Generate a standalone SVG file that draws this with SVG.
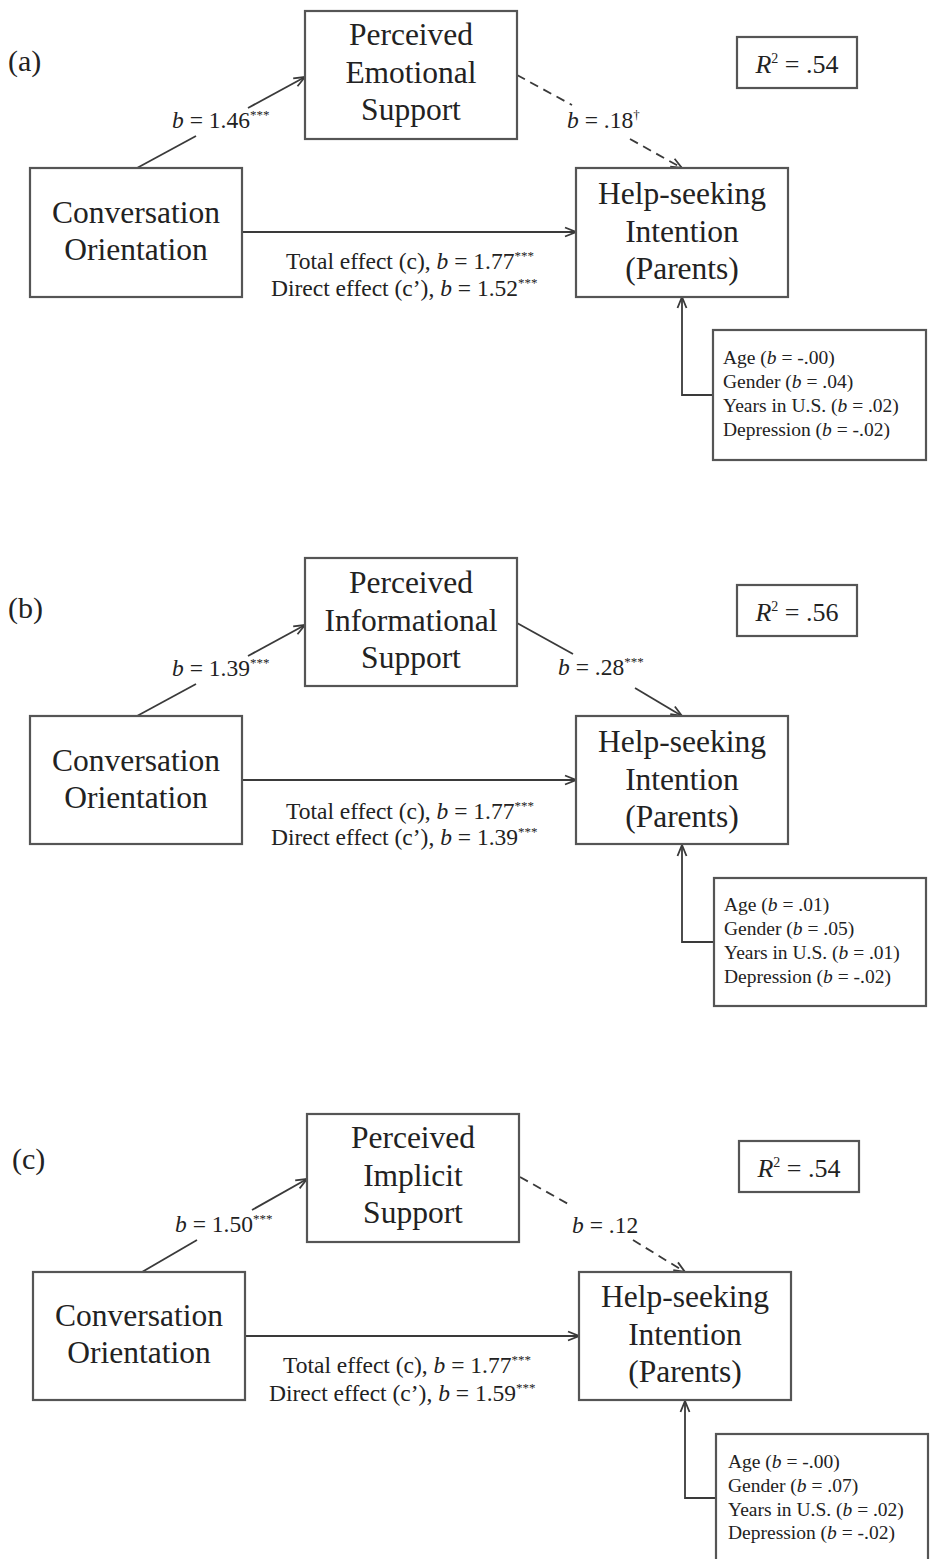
<svg xmlns="http://www.w3.org/2000/svg" width="930" height="1559" viewBox="0 0 930 1559">
  <style>
    .box { fill: #fff; stroke: #555; stroke-width: 2.2; }
    .big { font-family: "Liberation Serif", "Times New Roman", serif; font-size: 31.5px; fill: #222; text-anchor: middle; }
    .lbl { font-family: "Liberation Serif", "Times New Roman", serif; font-size: 23.5px; fill: #222; }
    .cov { font-family: "Liberation Serif", "Times New Roman", serif; font-size: 19.5px; fill: #222; }
    .rsq { font-family: "Liberation Serif", "Times New Roman", serif; font-size: 26px; fill: #222; text-anchor: middle; }
    .pan { font-family: "Liberation Serif", "Times New Roman", serif; font-size: 30px; fill: #222; }
    .i { font-style: italic; }
    .sup { font-size: 13px; }
    .ln { fill: none; stroke: #3a3a3a; stroke-width: 1.8; }
    .dash { stroke-dasharray: 9 6; }
  </style>
  <defs>
    <marker id="arrow" markerUnits="userSpaceOnUse" markerWidth="14" markerHeight="12" refX="12" refY="6" orient="auto">
      <path d="M1,1.5 L12,6 L1,10.5" fill="none" stroke="#3a3a3a" stroke-width="1.8"/>
    </marker>
  </defs>

  <rect width="930" height="1559" fill="#fff"/>

  <!-- panel labels -->
  <text class="pan" x="8" y="71">(a)</text>
  <text class="pan" x="8" y="618">(b)</text>
  <text class="pan" x="12" y="1169">(c)</text>

  <!-- connectors -->
  <g id="connectors">
    <!-- (a) -->
    <line class="ln" x1="137" y1="168" x2="196" y2="136"/>
    <line class="ln" x1="248" y1="108" x2="305" y2="77" marker-end="url(#arrow)"/>
    <line class="ln dash" x1="517" y1="75" x2="572" y2="105"/>
    <line class="ln dash" x1="630" y1="139" x2="682" y2="168" marker-end="url(#arrow)"/>
    <line class="ln" x1="242" y1="232" x2="576" y2="232" marker-end="url(#arrow)"/>
    <path class="ln" d="M713,395 H682 V297" marker-end="url(#arrow)"/>
    <!-- (b) -->
    <line class="ln" x1="137" y1="716" x2="196" y2="684"/>
    <line class="ln" x1="248" y1="656" x2="305" y2="625" marker-end="url(#arrow)"/>
    <line class="ln" x1="517" y1="623" x2="573" y2="654"/>
    <line class="ln" x1="635" y1="688" x2="682" y2="716" marker-end="url(#arrow)"/>
    <line class="ln" x1="242" y1="780" x2="576" y2="780" marker-end="url(#arrow)"/>
    <path class="ln" d="M714,942 H682 V845" marker-end="url(#arrow)"/>
    <!-- (c) -->
    <line class="ln" x1="142" y1="1272" x2="197" y2="1240"/>
    <line class="ln" x1="252" y1="1210" x2="307" y2="1179" marker-end="url(#arrow)"/>
    <line class="ln dash" x1="520" y1="1177" x2="570" y2="1205"/>
    <line class="ln dash" x1="633" y1="1240" x2="685" y2="1272" marker-end="url(#arrow)"/>
    <line class="ln" x1="245" y1="1336" x2="579" y2="1336" marker-end="url(#arrow)"/>
    <path class="ln" d="M716,1498 H685 V1401" marker-end="url(#arrow)"/>

    <!-- path labels (a) -->
    <text class="lbl" x="172" y="128"><tspan class="i">b</tspan> = 1.46<tspan class="sup" dy="-9">***</tspan></text>
    <text class="lbl" x="567" y="128"><tspan class="i">b</tspan> = .18<tspan class="sup" dy="-9">†</tspan></text>
    <text class="lbl" x="286" y="269">Total effect (c), <tspan class="i">b</tspan> = 1.77<tspan class="sup" dy="-9">***</tspan></text>
    <text class="lbl" x="271" y="296">Direct effect (c’), <tspan class="i">b</tspan> = 1.52<tspan class="sup" dy="-9">***</tspan></text>
    <!-- path labels (b) -->
    <text class="lbl" x="172" y="676"><tspan class="i">b</tspan> = 1.39<tspan class="sup" dy="-9">***</tspan></text>
    <text class="lbl" x="558" y="675"><tspan class="i">b</tspan> = .28<tspan class="sup" dy="-9">***</tspan></text>
    <text class="lbl" x="286" y="819">Total effect (c), <tspan class="i">b</tspan> = 1.77<tspan class="sup" dy="-9">***</tspan></text>
    <text class="lbl" x="271" y="845">Direct effect (c’), <tspan class="i">b</tspan> = 1.39<tspan class="sup" dy="-9">***</tspan></text>
    <!-- path labels (c) -->
    <text class="lbl" x="175" y="1232"><tspan class="i">b</tspan> = 1.50<tspan class="sup" dy="-9">***</tspan></text>
    <text class="lbl" x="572" y="1233"><tspan class="i">b</tspan> = .12</text>
    <text class="lbl" x="283" y="1373">Total effect (c), <tspan class="i">b</tspan> = 1.77<tspan class="sup" dy="-9">***</tspan></text>
    <text class="lbl" x="269" y="1401">Direct effect (c’), <tspan class="i">b</tspan> = 1.59<tspan class="sup" dy="-9">***</tspan></text>
  </g>

  <!-- panel (a) -->
  <g id="a-mediator">
    <rect class="box" x="305" y="11" width="212" height="128"/>
    <text class="big" x="411" y="45">Perceived</text>
    <text class="big" x="411" y="83">Emotional</text>
    <text class="big" x="411" y="120">Support</text>
  </g>
  <g id="a-predictor">
    <rect class="box" x="30" y="168" width="212" height="129"/>
    <text class="big" x="136" y="223">Conversation</text>
    <text class="big" x="136" y="260">Orientation</text>
  </g>
  <g id="a-outcome">
    <rect class="box" x="576" y="168" width="212" height="129"/>
    <text class="big" x="682" y="204">Help-seeking</text>
    <text class="big" x="682" y="242">Intention</text>
    <text class="big" x="682" y="279">(Parents)</text>
  </g>
  <g id="a-rsquare">
    <rect class="box" x="737" y="37" width="120" height="51"/>
    <text class="rsq" x="797" y="73"><tspan class="i">R</tspan><tspan font-size="14" dy="-10">2</tspan><tspan dy="10"> = .54</tspan></text>
  </g>
  <g id="a-covariates">
    <rect class="box" x="713" y="330" width="213" height="130"/>
    <text class="cov" x="723" y="364">Age (<tspan class="i">b</tspan> = -.00)</text>
    <text class="cov" x="723" y="388">Gender (<tspan class="i">b</tspan> = .04)</text>
    <text class="cov" x="723" y="412">Years in U.S. (<tspan class="i">b</tspan> = .02)</text>
    <text class="cov" x="723" y="436">Depression (<tspan class="i">b</tspan> = -.02)</text>
  </g>

  <!-- panel (b) -->
  <g id="b-mediator">
    <rect class="box" x="305" y="558" width="212" height="128"/>
    <text class="big" x="411" y="593">Perceived</text>
    <text class="big" x="411" y="631">Informational</text>
    <text class="big" x="411" y="668">Support</text>
  </g>
  <g id="b-predictor">
    <rect class="box" x="30" y="716" width="212" height="128"/>
    <text class="big" x="136" y="771">Conversation</text>
    <text class="big" x="136" y="808">Orientation</text>
  </g>
  <g id="b-outcome">
    <rect class="box" x="576" y="716" width="212" height="128"/>
    <text class="big" x="682" y="752">Help-seeking</text>
    <text class="big" x="682" y="790">Intention</text>
    <text class="big" x="682" y="827">(Parents)</text>
  </g>
  <g id="b-rsquare">
    <rect class="box" x="737" y="585" width="120" height="51"/>
    <text class="rsq" x="797" y="621"><tspan class="i">R</tspan><tspan font-size="14" dy="-10">2</tspan><tspan dy="10"> = .56</tspan></text>
  </g>
  <g id="b-covariates">
    <rect class="box" x="714" y="878" width="212" height="128"/>
    <text class="cov" x="724" y="911">Age (<tspan class="i">b</tspan> = .01)</text>
    <text class="cov" x="724" y="935">Gender (<tspan class="i">b</tspan> = .05)</text>
    <text class="cov" x="724" y="959">Years in U.S. (<tspan class="i">b</tspan> = .01)</text>
    <text class="cov" x="724" y="983">Depression (<tspan class="i">b</tspan> = -.02)</text>
  </g>

  <!-- panel (c) -->
  <g id="c-mediator">
    <rect class="box" x="307" y="1114" width="212" height="128"/>
    <text class="big" x="413" y="1148">Perceived</text>
    <text class="big" x="413" y="1186">Implicit</text>
    <text class="big" x="413" y="1223">Support</text>
  </g>
  <g id="c-predictor">
    <rect class="box" x="33" y="1272" width="212" height="128"/>
    <text class="big" x="139" y="1326">Conversation</text>
    <text class="big" x="139" y="1363">Orientation</text>
  </g>
  <g id="c-outcome">
    <rect class="box" x="579" y="1272" width="212" height="128"/>
    <text class="big" x="685" y="1307">Help-seeking</text>
    <text class="big" x="685" y="1345">Intention</text>
    <text class="big" x="685" y="1382">(Parents)</text>
  </g>
  <g id="c-rsquare">
    <rect class="box" x="739" y="1141" width="120" height="51"/>
    <text class="rsq" x="799" y="1177"><tspan class="i">R</tspan><tspan font-size="14" dy="-10">2</tspan><tspan dy="10"> = .54</tspan></text>
  </g>
  <g id="c-covariates">
    <rect class="box" x="716" y="1434" width="212" height="135"/>
    <text class="cov" x="728" y="1468">Age (<tspan class="i">b</tspan> = -.00)</text>
    <text class="cov" x="728" y="1492">Gender (<tspan class="i">b</tspan> = .07)</text>
    <text class="cov" x="728" y="1516">Years in U.S. (<tspan class="i">b</tspan> = .02)</text>
    <text class="cov" x="728" y="1539">Depression (<tspan class="i">b</tspan> = -.02)</text>
  </g>
</svg>
